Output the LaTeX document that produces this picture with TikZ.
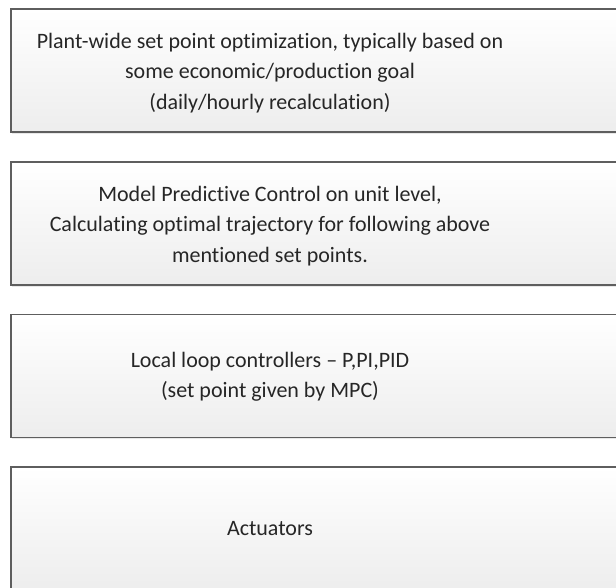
\documentclass[tikz,border=0pt]{standalone}
\usepackage{fontspec}
\setmainfont{Carlito}[Ligatures=NoCommon]
\usetikzlibrary{shadows}

\tikzset{
  level/.style={draw=black!63, line width=1.1pt, top color=white, bottom color=black!7,
    minimum width=465pt, minimum height=92pt, inner sep=0pt,
    drop shadow={shadow xshift=0.8pt, shadow yshift=-1.5pt, opacity=0.18}},
  lvltxt/.style={align=center, text=black!85, font=\fontsize{16.5}{22.8}\selectfont}
}

\begin{document}
\begin{tikzpicture}[x=0.75pt,y=-0.75pt]
        \useasboundingbox (0,0) rectangle (616,587);
        \clip (0,0) rectangle (616,587);
        % the four levels, top to bottom
        \node[level] (optim) at (321,70.5) {};
        \node[level] (mpc) at (321,223.5) {};
        \node[level] (loops) at (321,376) {};
        \node[level] (act) at (321,528.5) {};
        % texts, centred left of the box middle
        \node[lvltxt] (optimtxt) at (270,73) {Plant-wide set point optimization, typically based on\\
          some economic/production goal\\(daily/hourly recalculation)};
        \node[lvltxt] (mpctxt) at (270,226) {Model Predictive Control on unit level,\\
          Calculating optimal trajectory for following above\\mentioned set points.};
        \node[lvltxt] (loopstxt) at (270,377) {Local loop controllers -- P,PI,PID\\(set point given by MPC)};
        \node[lvltxt] (acttxt) at (270,529) {Actuators};
      \end{tikzpicture}
\end{document}
